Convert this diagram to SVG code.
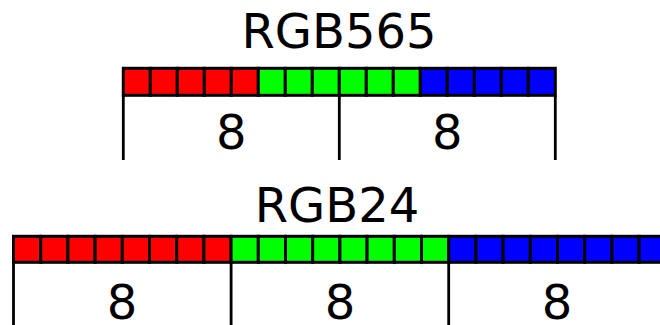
<svg xmlns="http://www.w3.org/2000/svg" width="660" height="325" viewBox="0 0 660 325">
<style>
.t{font-family:"DejaVu Sans",sans-serif;font-size:48px;fill:#000;text-anchor:middle}
.c{stroke:#000;stroke-width:3}
.r{fill:#ff0000}.g{fill:#00ff00}.b{fill:#0000ff}
.l{stroke:#000;stroke-width:2.8;fill:none}
</style>
<rect width="660" height="325" fill="#fff"/>
<g id="rgb565">
<text class="t" x="339" y="48">RGB565</text>
<g id="rgb565-bits">
<rect class="c r" x="123.3" y="68.3" width="27" height="27"/>
<rect class="c r" x="150.3" y="68.3" width="27" height="27"/>
<rect class="c r" x="177.3" y="68.3" width="27" height="27"/>
<rect class="c r" x="204.3" y="68.3" width="27" height="27"/>
<rect class="c r" x="231.3" y="68.3" width="27" height="27"/>
<rect class="c g" x="258.3" y="68.3" width="27" height="27"/>
<rect class="c g" x="285.3" y="68.3" width="27" height="27"/>
<rect class="c g" x="312.3" y="68.3" width="27" height="27"/>
<rect class="c g" x="339.3" y="68.3" width="27" height="27"/>
<rect class="c g" x="366.3" y="68.3" width="27" height="27"/>
<rect class="c g" x="393.3" y="68.3" width="27" height="27"/>
<rect class="c b" x="420.3" y="68.3" width="27" height="27"/>
<rect class="c b" x="447.3" y="68.3" width="27" height="27"/>
<rect class="c b" x="474.3" y="68.3" width="27" height="27"/>
<rect class="c b" x="501.3" y="68.3" width="27" height="27"/>
<rect class="c b" x="528.3" y="68.3" width="27" height="27"/>
</g>
<text class="t" x="231.3" y="149">8</text>
<text class="t" x="447.3" y="149">8</text>
</g>
<g id="rgb24">
<text class="t" x="337" y="222">RGB24</text>
<g id="rgb24-bits">
<rect class="c r" x="13.5" y="236.3" width="27.2" height="26"/>
<rect class="c r" x="40.7" y="236.3" width="27.2" height="26"/>
<rect class="c r" x="67.9" y="236.3" width="27.2" height="26"/>
<rect class="c r" x="95.1" y="236.3" width="27.2" height="26"/>
<rect class="c r" x="122.3" y="236.3" width="27.2" height="26"/>
<rect class="c r" x="149.5" y="236.3" width="27.2" height="26"/>
<rect class="c r" x="176.7" y="236.3" width="27.2" height="26"/>
<rect class="c r" x="203.9" y="236.3" width="27.2" height="26"/>
<rect class="c g" x="231.1" y="236.3" width="27.2" height="26"/>
<rect class="c g" x="258.3" y="236.3" width="27.2" height="26"/>
<rect class="c g" x="285.5" y="236.3" width="27.2" height="26"/>
<rect class="c g" x="312.7" y="236.3" width="27.2" height="26"/>
<rect class="c g" x="339.9" y="236.3" width="27.2" height="26"/>
<rect class="c g" x="367.1" y="236.3" width="27.2" height="26"/>
<rect class="c g" x="394.3" y="236.3" width="27.2" height="26"/>
<rect class="c g" x="421.5" y="236.3" width="27.2" height="26"/>
<rect class="c b" x="448.7" y="236.3" width="27.2" height="26"/>
<rect class="c b" x="475.9" y="236.3" width="27.2" height="26"/>
<rect class="c b" x="503.1" y="236.3" width="27.2" height="26"/>
<rect class="c b" x="530.3" y="236.3" width="27.2" height="26"/>
<rect class="c b" x="557.5" y="236.3" width="27.2" height="26"/>
<rect class="c b" x="584.7" y="236.3" width="27.2" height="26"/>
<rect class="c b" x="611.9" y="236.3" width="27.2" height="26"/>
<rect class="c b" x="639.1" y="236.3" width="27.2" height="26"/>
</g>
<text class="t" x="122" y="319">8</text>
<text class="t" x="340" y="319">8</text>
<text class="t" x="557" y="319">8</text>
</g>
<g id="connectors">
<path class="l" d="M123.3 95.3V160M339.3 95.3V160M555.3 95.3V160"/>
<path class="l" d="M13.5 262.3V325M231.1 262.3V325M448.7 262.3V325"/>
</g>
</svg>
